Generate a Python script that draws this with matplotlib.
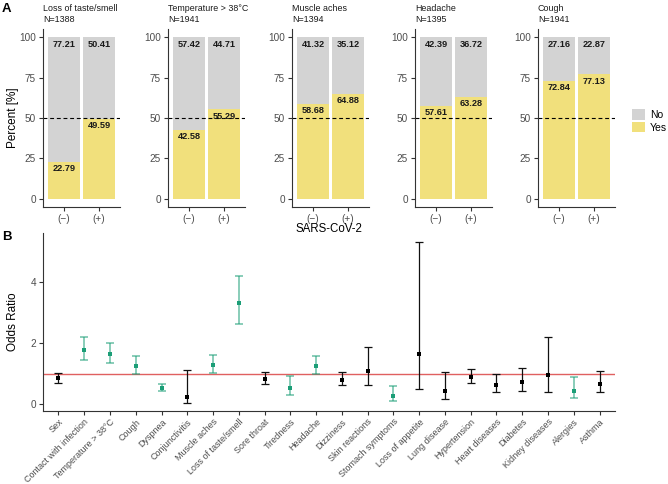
import matplotlib
matplotlib.use("Agg")
import matplotlib.pyplot as plt
from matplotlib.patches import Patch

plt.rcParams['font.family'] = ['Liberation Sans', 'DejaVu Sans']

# ---------------- data: panel A ----------------
symptoms_a = ["Loss of taste/smell", "Temperature > 38°C", "Muscle aches", "Headache", "Cough"]
n_a = [1388, 1941, 1394, 1395, 1941]
groups_a = ["(−)", "(+)"]
yes_neg = [22.79, 42.58, 58.68, 57.61, 72.84]
yes_pos = [49.59, 55.29, 64.88, 63.28, 77.13]
no_neg = [77.21, 57.42, 41.32, 42.39, 27.16]
no_pos = [50.41, 44.71, 35.12, 36.72, 22.87]

# ---------------- data: panel B ----------------
factors_b = ["Sex", "Contact with infection", "Temperature > 38°C", "Cough", "Dyspnea",
             "Conjunctivitis", "Muscle aches", "Loss of taste/smell", "Sore throat",
             "Tiredness", "Headache", "Dizziness", "Skin reactions", "Stomach symptoms",
             "Loss of appetite", "Lung disease", "Hypertension", "Heart diseases",
             "Diabetes", "Kidney diseases", "Alergies", "Asthma"]
odds = [0.86, 1.79, 1.66, 1.26, 0.54, 0.23, 1.30, 3.33, 0.84, 0.54, 1.26, 0.81,
        1.08, 0.28, 1.64, 0.43, 0.91, 0.63, 0.74, 0.95, 0.45, 0.68]
ci_low = [0.71, 1.44, 1.37, 0.98, 0.43, 0.04, 1.03, 2.62, 0.68, 0.32, 0.99, 0.62,
          0.62, 0.12, 0.50, 0.16, 0.70, 0.39, 0.45, 0.40, 0.22, 0.40]
ci_high = [1.04, 2.21, 2.02, 1.57, 0.67, 1.12, 1.62, 4.22, 1.06, 0.92, 1.58, 1.05,
           1.88, 0.59, 5.33, 1.05, 1.17, 0.99, 1.20, 2.22, 0.91, 1.09]
significant = [False, True, True, True, True, False, True, True, False, True, True, False,
               False, True, False, False, False, False, False, False, True, False]

W, H = 668, 484
fig = plt.figure(figsize=(W / 100, H / 100), dpi=100)

def ax_px(x0, y0, x1, y1):
    return fig.add_axes([x0 / W, 1 - y1 / H, (x1 - x0) / W, (y1 - y0) / H])

YELLOW = "#F1E07C"
GREY = "#D3D3D3"
TICKC = "#4D4D4D"
AXC = "#333333"

lefts = [43, 168, 292, 415, 538]
for i in range(5):
    ax = ax_px(lefts[i], 29, lefts[i] + 77, 207)
    xs = [1, 2]
    yv = [yes_neg[i], yes_pos[i]]
    nv = [no_neg[i], no_pos[i]]
    ax.bar(xs, yv, width=0.9, color=YELLOW, linewidth=0)
    ax.bar(xs, nv, bottom=yv, width=0.9, color=GREY, linewidth=0)
    for x, y, n in zip(xs, yv, nv):
        ax.text(x, y - 4.3, f"{y:.2f}", ha='center', va='center', fontsize=6.6,
                fontweight='bold', color='#1a1a1a')
        ax.text(x, 100 - 4.3, f"{n:.2f}", ha='center', va='center', fontsize=6.6,
                fontweight='bold', color='#1a1a1a')
    ax.axhline(50, color='black', linestyle=(0, (3.5, 2.5)), linewidth=0.8)
    ax.set_xlim(0.4, 2.6)
    ax.set_ylim(-5, 105)
    ax.set_xticks(xs)
    ax.set_xticklabels(groups_a)
    ax.set_yticks([0, 25, 50, 75, 100])
    for s in ['top', 'right']:
        ax.spines[s].set_visible(False)
    for s in ['left', 'bottom']:
        ax.spines[s].set_color(AXC)
        ax.spines[s].set_linewidth(0.8)
    ax.tick_params(colors=AXC, labelcolor=TICKC, labelsize=7.2, length=3, width=0.8, pad=2)
    ax.text(0, 1 + 15 / 178, f"{symptoms_a[i]}\nN={n_a[i]}", transform=ax.transAxes,
            ha='left', va='center', fontsize=6.4, color='#1a1a1a', linespacing=1.15)

fig.text(13 / W, 1 - 118 / H, "Percent [%]", rotation=90, ha='center', va='center', fontsize=8.5)
fig.text(329 / W, 1 - 229 / H, "SARS-CoV-2", ha='center', va='center', fontsize=8.3)
fig.text(2 / W, 1 - 9 / H, "A", ha='left', va='center', fontsize=9.5, fontweight='bold')

handles = [Patch(facecolor=GREY, edgecolor='none', label='No'),
           Patch(facecolor=YELLOW, edgecolor='none', label='Yes')]
fig.legend(handles=handles, loc='center left', bbox_to_anchor=(632 / W, 1 - 121 / H),
           frameon=False, fontsize=7.5, handlelength=1.2, handleheight=1.2,
           handletextpad=0.5, labelspacing=0.15, borderpad=0, borderaxespad=0)

# ---------------- panel B ----------------
axb = ax_px(43, 233, 615, 411)
GREEN = "#1B9E77"
xpos = list(range(1, len(factors_b) + 1))
for x, o, lo, hi, sig in zip(xpos, odds, ci_low, ci_high, significant):
    if sig:
        axb.errorbar(x, o, yerr=[[o - lo], [hi - o]], fmt='none', ecolor=GREEN, alpha=0.65,
                     elinewidth=1.1, capsize=2.8, capthick=1.1)
        axb.plot(x, o, 's', color=GREEN, markersize=3.2, markeredgewidth=0)
    else:
        axb.errorbar(x, o, yerr=[[o - lo], [hi - o]], fmt='none', ecolor='#111111',
                     elinewidth=0.9, capsize=2.8, capthick=0.9)
        axb.plot(x, o, 's', color='black', markersize=3.2, markeredgewidth=0)
axb.axhline(1, color='#E06060', linewidth=1.0, zorder=0)
axb.set_xlim(0.4, len(factors_b) + 0.6)
axb.set_ylim(-0.22, 5.62)
axb.set_yticks([0, 2, 4])
axb.set_xticks(xpos)
axb.set_xticklabels(factors_b, rotation=45, ha='right', va='top', rotation_mode='anchor')
for s in ['top', 'right']:
    axb.spines[s].set_visible(False)
for s in ['left', 'bottom']:
    axb.spines[s].set_color(AXC)
    axb.spines[s].set_linewidth(0.8)
axb.tick_params(colors=AXC, labelcolor=TICKC, length=3, width=0.8, pad=2)
axb.tick_params(axis='y', labelsize=7.2)
axb.tick_params(axis='x', labelsize=6.5, pad=1.5)
fig.text(13 / W, 1 - 322 / H, "Odds Ratio", rotation=90, ha='center', va='center', fontsize=8.5)
fig.text(2 / W, 1 - 237 / H, "B", ha='left', va='center', fontsize=9.5, fontweight='bold')

fig.savefig("out.png", dpi=100)
